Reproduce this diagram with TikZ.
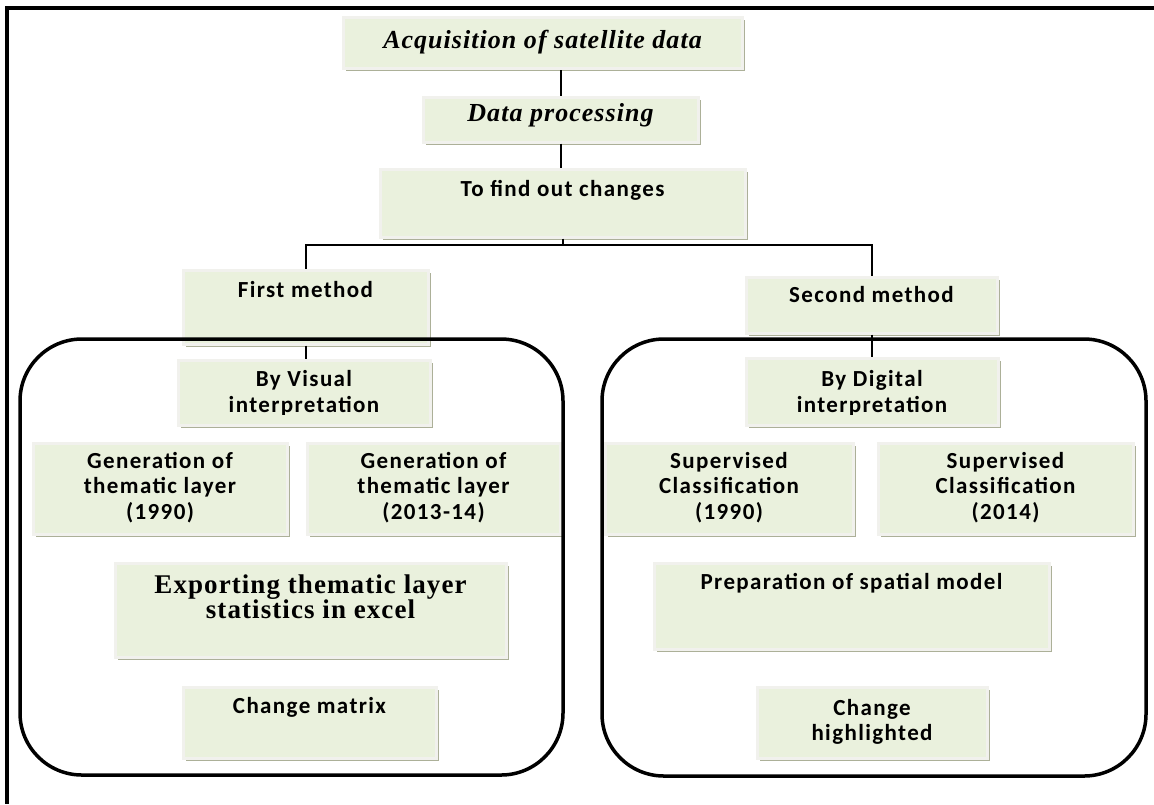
\documentclass[tikz,border=0pt]{standalone}
\usepackage{fontspec}
\usepackage{tikz}
\usetikzlibrary{shadows}

\newfontfamily\sansfnt[LetterSpace=6]{Carlito}
\newfontfamily\seriffnt[LetterSpace=4]{Liberation Serif}

\definecolor{boxfill}{RGB}{234,241,221}
\definecolor{boxedge}{RGB}{241,241,237}
\definecolor{boxshade}{RGB}{172,176,152}

\tikzset{
    stepbox/.style={rectangle, fill=boxfill, draw=boxedge, line width=1.5pt,
        inner sep=0pt,
        drop shadow={shadow xshift=1.3pt, shadow yshift=-1.3pt,
            fill=boxshade, opacity=1}},
    sanstxt/.style={font=\sansfnt\bfseries\fontsize{11.5}{12.7}\selectfont},
    serifbf/.style={font=\seriffnt\bfseries\fontsize{13.5}{12.5}\selectfont},
    serifit/.style={font=\seriffnt\bfseries\itshape\fontsize{13}{15}\selectfont},
    link/.style={line width=1pt},
    group/.style={line width=1.75pt, rounded corners=31pt},
}

% text set at the top of a box, cut off near the box bottom
\newcommand\steplabel[5]{%
    \begin{scope}
        \clip ([shift={(1.5pt,6pt)}]#1.south west)
            rectangle ([shift={(-1.5pt,-1.5pt)}]#1.north east);
        \node[#3, anchor=north, inner sep=0pt, align=center] (#2)
            at ([yshift=-#4]#1.north) {#5};
    \end{scope}}

\begin{document}
\begin{tikzpicture}[x=0.5pt, y=-0.5pt]
    \useasboundingbox (0,0) rectangle (1154,804);
    \draw[line width=2pt] (1154,8) -- (7,8) -- (7,804);

    % main chain
    \node[stepbox, minimum width=199.5pt, minimum height=25.5pt]
        (acq) at (542.5,42.5) {};
    \node[stepbox, minimum width=137.5pt, minimum height=22.5pt]
        (dp) at (560.5,119.5) {};
    \node[stepbox, minimum width=182.5pt, minimum height=34pt]
        (find) at (562.5,203) {};
    \node[stepbox, minimum width=122.5pt, minimum height=37pt]
        (first) at (305.5,307) {};
    \node[stepbox, minimum width=125.5pt, minimum height=28pt]
        (second) at (871.5,305) {};

    % first method
    \node[stepbox, minimum width=126pt, minimum height=32.5pt]
        (byvis) at (304,392.5) {};
    \node[stepbox, minimum width=127pt, minimum height=45.5pt]
        (gena) at (160,488.5) {};
    \node[stepbox, minimum width=126.5pt, minimum height=45.5pt]
        (genb) at (433.5,488.5) {};
    \node[stepbox, minimum width=195.5pt, minimum height=47pt]
        (export) at (310.5,610) {};
    \node[stepbox, minimum width=126.5pt, minimum height=35.5pt]
        (chmat) at (309.5,722.5) {};

    % second method
    \node[stepbox, minimum width=126pt, minimum height=33.5pt]
        (bydig) at (872,391.5) {};
    \node[stepbox, minimum width=124pt, minimum height=45.5pt]
        (supa) at (729,488.5) {};
    \node[stepbox, minimum width=127.5pt, minimum height=45.5pt]
        (supb) at (1005.5,488.5) {};
    \node[stepbox, minimum width=197.5pt, minimum height=43pt]
        (prep) at (851.5,606) {};
    \node[stepbox, minimum width=115pt, minimum height=35.5pt]
        (chhi) at (872,722.5) {};

    \steplabel{acq}{acqtxt}{serifit}{6.9pt}{Acquisition of satellite data}
    \steplabel{dp}{dptxt}{serifit}{3.9pt}{Data processing}
    \steplabel{find}{findtxt}{sanstxt}{6.2pt}{To find out changes}
    \steplabel{first}{firsttxt}{sanstxt}{6.2pt}{First method}
    \steplabel{second}{secondtxt}{sanstxt}{5.45pt}{Second method}
    \steplabel{byvis}{byvistxt}{sanstxt}{5.95pt}{By Visual\\interpretation}
    \steplabel{gena}{genatxt}{sanstxt}{5.2pt}{Generation of\\thematic layer\\(1990)}
    \steplabel{genb}{genbtxt}{sanstxt}{5.2pt}{Generation of\\thematic layer\\(2013-14)}
    \steplabel{export}{exporttxt}{serifbf}{6.35pt}{Exporting thematic layer\\statistics in excel}
    \steplabel{chmat}{chmattxt}{sanstxt}{5.7pt}{Change matrix}
    \steplabel{bydig}{bydigtxt}{sanstxt}{6.85pt}{By Digital\\interpretation}
    \steplabel{supa}{supatxt}{sanstxt}{5.2pt}{Supervised\\Classification\\(1990)}
    \steplabel{supb}{supbtxt}{sanstxt}{5.2pt}{Supervised\\Classification\\(2014)}
    \steplabel{prep}{preptxt}{sanstxt}{5.95pt}{Preparation of spatial model}
    \steplabel{chhi}{chhitxt}{sanstxt}{6.7pt}{Change\\highlighted}

    \coordinate (split) at (562,245);

    \draw[link] (dp.north) -- (dp.north |- acq.south);
    \draw[link] (dp.south) -- (dp.south |- find.north);
    \draw[link] (find.south) -- (find.south |- split);
    \draw[link] (first.north) |- (split) -| (second.north);
    \draw[link] (first.south) -- (first.south |- byvis.north);
    \draw[link] (second.south) -- (second.south |- bydig.north);

    \draw[group] (20,339) rectangle (563,775);
    \draw[group] (602,339) rectangle (1146,776);
\end{tikzpicture}
\end{document}
